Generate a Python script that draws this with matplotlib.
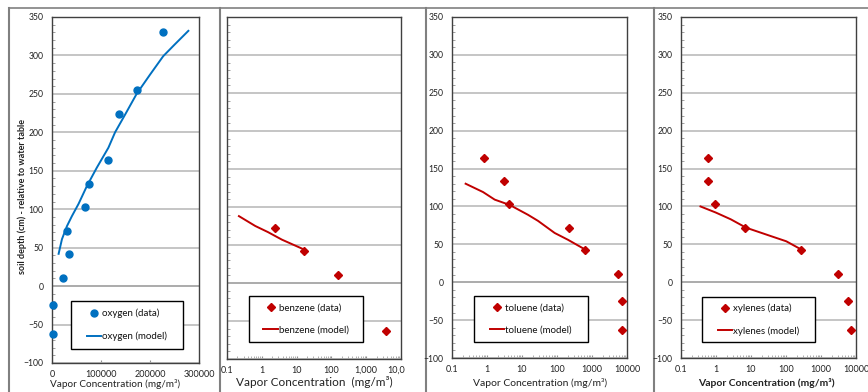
import matplotlib
matplotlib.use("Agg")
import matplotlib.pyplot as plt
from matplotlib.patches import Rectangle
from matplotlib.lines import Line2D
from matplotlib.ticker import MultipleLocator, FixedLocator, FixedFormatter, LogLocator, NullFormatter
from matplotlib.transforms import Bbox, TransformedBbox

plt.rcParams['font.family'] = ['Lato', 'DejaVu Sans']

# ---------------- data ----------------
depth_all = [331, 255, 224, 164, 133, 103, 72, 42, 11, -24, -62]

oxygen_data_x = [227500, 174000, 136800, 113800, 75200, 67700, 29800, 34500, 22300, 1500, 1500]
oxygen_data_y = depth_all
oxygen_model_x = [13500, 20300, 30500, 40600, 54200, 71100, 91400, 115100, 128700,
                  150000, 172700, 200000, 226900, 250000, 278300]
oxygen_model_y = [42, 61, 78, 91, 107, 130, 154, 180, 200, 224, 250, 275, 299, 314, 332]

benzene_data_x = [2.33, 16.5, 152, 3800]
benzene_data_y = [72, 42, 11, -63]
benzene_model_x = [0.22, 0.65, 1.5, 3.8, 16.5]
benzene_model_y = [88, 75, 67, 57, 44]

toluene_data_x = [0.82, 2.99, 4.16, 220, 645, 5500, 7050, 7050]
toluene_data_y = [164, 133, 103, 72, 42, 11, -25, -63]
toluene_model_x = [0.245, 0.77, 1.66, 4.44, 14.8, 28.6, 85.7, 206, 645]
toluene_model_y = [130, 119, 109, 102, 89, 81, 65, 56, 43]

xylenes_data_x = [0.59, 0.59, 0.94, 6.56, 277, 3100, 6000, 7200]
xylenes_data_y = [164, 133, 103, 72, 42, 11, -25, -63]
xylenes_model_x = [0.36, 0.98, 2.65, 7.2, 42, 102, 277]
xylenes_model_y = [100, 92, 83, 72, 60, 54, 43]

log_ticks = [0.1, 1, 10, 100, 1000, 10000]
log_labels = ['0.1', '1', '10', '100', '1000', '10000']
benzene_labels = ['0.1', '1', '10', '100', '1,000', '10,000']
oxy_ticks = [0, 100000, 200000, 300000]
oxy_labels = ['0', '100000', '200000', '300000']

BLUE = '#0070C0'
RED = '#C00000'
GRID = '#C0C0C0'
SPINE = '#404040'

W, H = 868, 392
fig = plt.figure(figsize=(W / 100, H / 100), dpi=100)


def px_axes(x0, y0, x1, y1):
    return fig.add_axes([x0 / W, 1 - y1 / H, (x1 - x0) / W, (y1 - y0) / H])


def style(ax, ylabels=True):
    ax.set_ylim(-100, 350)
    ax.yaxis.set_major_locator(MultipleLocator(50))
    ax.yaxis.set_minor_locator(MultipleLocator(10))
    ax.grid(axis='y', which='major', color=GRID, lw=1.3, zorder=0)
    ax.axhline(0, color='black', lw=1.4, zorder=1)
    for s in ax.spines.values():
        s.set_color(SPINE)
        s.set_linewidth(1.0)
    ax.tick_params(axis='y', which='major', length=0, pad=6, labelsize=6.2,
                   labelcolor='#222222', labelleft=ylabels)
    ax.tick_params(axis='y', which='minor', direction='in', length=2.5,
                   color='#909090', width=0.6)
    ax.tick_params(axis='x', which='major', direction='in', length=2,
                   color='#909090', labelsize=6.5, labelcolor='#222222', pad=5)
    ax.tick_params(axis='x', which='minor', direction='in', length=2,
                   color='#909090', width=0.5)
    ax.set_facecolor('white')


def legend_box(ax, x0, y0, x1, y1, handles, labels):
    bb = ax.get_position()
    ax_x0, ax_x1 = bb.x0 * W, bb.x1 * W
    ax_yb, ax_yt = (1 - bb.y0) * H, (1 - bb.y1) * H
    fx0 = (x0 - ax_x0) / (ax_x1 - ax_x0)
    fx1 = (x1 - ax_x0) / (ax_x1 - ax_x0)
    fy0 = (ax_yb - y1) / (ax_yb - ax_yt)
    fy1 = (ax_yb - y0) / (ax_yb - ax_yt)
    ax.add_patch(Rectangle((fx0, fy0), fx1 - fx0, fy1 - fy0, transform=ax.transAxes,
                           facecolor='white', edgecolor='black', lw=1.0, zorder=4))
    leg = ax.legend(handles, labels, loc='center',
                    bbox_to_anchor=((fx0 + fx1) / 2, (fy0 + fy1) / 2),
                    frameon=False, fontsize=7, labelspacing=1.35,
                    handlelength=1.5, handletextpad=0.1, borderpad=0)
    leg.set_zorder(5)
    for t in leg.get_texts():
        t.set_color('#111111')
    return leg


# ---------------- panel separators (drawn first, behind text) ----------------
SEP = '#808080'
fig.add_artist(Line2D([9 / W, 1], [1 - 8 / H, 1 - 8 / H], color=SEP, lw=1.2,
                      transform=fig.transFigure, zorder=-1))
for xs in [9, 220, 426, 654]:
    fig.add_artist(Line2D([xs / W, xs / W], [0, 1 - 8 / H], color=SEP, lw=1.5,
                          transform=fig.transFigure, zorder=-1))

# ---------------- oxygen ----------------
ax1 = px_axes(52, 17, 199, 363)
style(ax1)
ax1.set_xlim(0, 300000)
ax1.xaxis.set_major_locator(FixedLocator(oxy_ticks))
ax1.xaxis.set_major_formatter(FixedFormatter(oxy_labels))
d1, = ax1.plot(oxygen_data_x, oxygen_data_y, 'o', color=BLUE, ms=5, zorder=3, clip_on=False)
m1, = ax1.plot(oxygen_model_x, oxygen_model_y, '-', color=BLUE, lw=1.4, zorder=3)
legend_box(ax1, 71, 301, 183, 349, [d1, m1], ['oxygen (data)', 'oxygen (model)'])
ax1.set_ylabel('soil depth (cm) - relative to water table', fontsize=6.5,
               fontweight='bold', color='#222222')
ax1.yaxis.set_label_coords(-0.17, 0.48)
ax1.set_xlabel('Vapor Concentration (mg/m³)', fontsize=7.2, color='#222222')
ax1.xaxis.set_label_coords(0.43, -0.046)


def log_axes(ax, labels):
    ax.set_xscale('log')
    ax.set_xlim(0.1, 10000)
    ax.xaxis.set_major_locator(FixedLocator(log_ticks))
    ax.xaxis.set_major_formatter(FixedFormatter(labels))
    ax.xaxis.set_minor_locator(LogLocator(base=10, subs=range(2, 10)))
    ax.xaxis.set_minor_formatter(NullFormatter())


# ---------------- benzene ----------------
ax2 = px_axes(227, 17, 401, 359)
log_axes(ax2, benzene_labels)
style(ax2, ylabels=False)
d2, = ax2.plot(benzene_data_x, benzene_data_y, 'D', color=RED, ms=4.2, zorder=3)
m2, = ax2.plot(benzene_model_x, benzene_model_y, '-', color=RED, lw=1.4, zorder=3)
legend_box(ax2, 249, 296, 363, 342, [d2, m2], ['benzene (data)', 'benzene (model)'])
ax2.set_xlabel('Vapor Concentration  (mg/m³)', fontsize=8.5, color='#222222')
ax2.xaxis.set_label_coords(0.5, -0.05)
clipbb = TransformedBbox(Bbox([[0, 0], [405 / W, 1]]), fig.transFigure)
for t in ax2.get_xticklabels():
    t.set_clip_box(clipbb)
    t.set_clip_on(True)

# ---------------- toluene ----------------
ax3 = px_axes(452, 17, 627, 358)
log_axes(ax3, log_labels)
style(ax3)
d3, = ax3.plot(toluene_data_x, toluene_data_y, 'D', color=RED, ms=4.2, zorder=3)
m3, = ax3.plot(toluene_model_x, toluene_model_y, '-', color=RED, lw=1.4, zorder=3)
legend_box(ax3, 474, 296, 588, 342, [d3, m3], ['toluene (data)', 'toluene (model)'])
ax3.set_xlabel('Vapor Concentration (mg/m³)', fontsize=7.5, color='#222222')
ax3.xaxis.set_label_coords(0.503, -0.06)

# ---------------- xylenes ----------------
ax4 = px_axes(681, 17, 856, 358)
log_axes(ax4, log_labels)
style(ax4)
d4, = ax4.plot(xylenes_data_x, xylenes_data_y, 'D', color=RED, ms=4.2, zorder=3)
m4, = ax4.plot(xylenes_model_x, xylenes_model_y, '-', color=RED, lw=1.4, zorder=3)
legend_box(ax4, 702, 297, 815, 342, [d4, m4], ['xylenes (data)', 'xylenes (model)'])
ax4.set_xlabel('Vapor Concentration (mg/m³)', fontsize=7.5, color='#222222',
               fontweight='bold')
ax4.xaxis.set_label_coords(0.49, -0.06)

fig.savefig('out.png', dpi=100, facecolor='white')
